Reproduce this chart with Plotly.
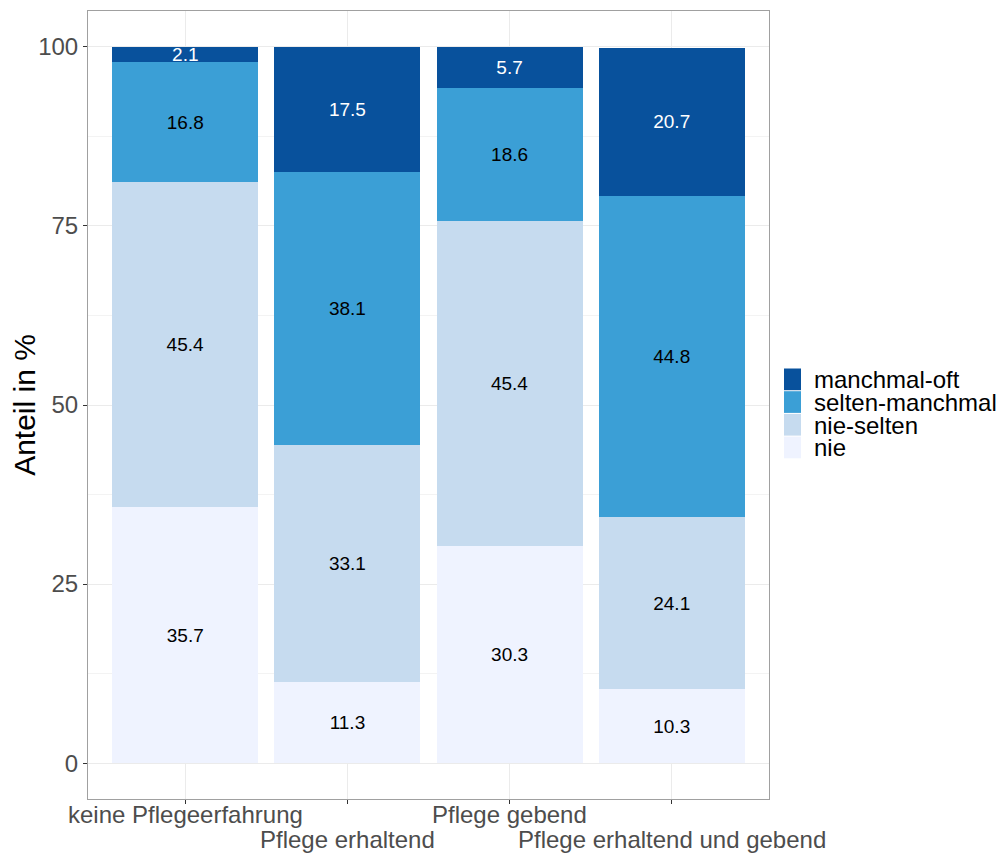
import plotly.graph_objects as go

# Categories and values (percent)
categories = ["keine Pflegeerfahrung", "Pflege erhaltend", "Pflege gebend", "Pflege erhaltend und gebend"]

nie = [35.7, 11.3, 30.3, 10.3]
nie_selten = [45.4, 33.1, 45.4, 24.1]
selten_manchmal = [16.8, 38.1, 18.6, 44.8]
manchmal_oft = [2.1, 17.5, 5.7, 20.7]

series_names = ["nie", "nie-selten", "selten-manchmal", "manchmal-oft"]
series_values = [nie, nie_selten, selten_manchmal, manchmal_oft]
colors = ["#EFF3FF", "#C6DBEF", "#3B9FD6", "#08519C"]
text_colors = ["black", "black", "black", "white"]

FONT = "Liberation Sans, Arial, sans-serif"

fig = go.Figure()
for name, vals, color, tcolor in zip(series_names, series_values, colors, text_colors):
    fig.add_trace(go.Bar(
        x=categories, y=vals, name=name,
        marker=dict(color=color, line=dict(width=0)),
        text=[f"{v:.1f}" for v in vals],
        textposition="inside", insidetextanchor="middle",
        textfont=dict(color=tcolor, size=19, family=FONT),
        constraintext="none", cliponaxis=False,
        hoverinfo="skip", showlegend=False,
    ))

# the page has an 8px body margin, so the figure is 999x846
W, H = 999, 846
L, R, T, B = 80, 238, 3, 55
pw, ph = W - L - R, H - T - B


def px_x(p):
    return (p - L) / pw


def px_y(p):
    return (H - B - p) / ph


# dodged x labels (two rows), as in the ggplot original
annotations = []
for i, cat in enumerate(categories):
    annotations.append(dict(
        x=cat, xref="x", y=0, yref="paper", yanchor="top",
        yshift=-25 * (i % 2), text=cat, showarrow=False,
        font=dict(size=24, color="#4D4D4D", family=FONT),
    ))

# manual legend (ggplot-like tight keys), pixel positions in figure coords
shapes = []
key_top = 360
key_h = 22.7
for j, (name, color) in enumerate(zip(series_names[::-1], colors[::-1])):
    y0 = key_top + j * key_h
    shapes.append(dict(
        type="rect", xref="paper", yref="paper",
        x0=px_x(776), x1=px_x(793), y0=px_y(y0 + key_h - 0.5), y1=px_y(y0 + 0.5),
        fillcolor=color, line=dict(width=0),
    ))
    annotations.append(dict(
        x=px_x(805), xref="paper", y=px_y(y0 + key_h / 2), yref="paper",
        xanchor="left", yanchor="middle", text=name, showarrow=False,
        height=22, borderpad=0,
        font=dict(size=24, color="black", family=FONT),
    ))

fig.update_layout(
    barmode="stack",
    bargap=0.1,
    width=W, height=H,
    margin=dict(l=L, r=R, t=T, b=B),
    plot_bgcolor="white", paper_bgcolor="white",
    font=dict(family=FONT, color="black"),
    uniformtext=dict(minsize=19, mode="show"),
    showlegend=False,
    annotations=annotations,
    shapes=shapes,
)

fig.update_xaxes(
    range=[-0.6, 3.6], automargin=False,
    showticklabels=False,
    showgrid=True, gridcolor="#EBEBEB", gridwidth=1,
    showline=True, mirror=True, linecolor="#A0A0A0", linewidth=1,
    ticks="outside", ticklen=4, tickcolor="#333333",
)

fig.update_yaxes(
    range=[-5, 105], automargin=False,
    tickvals=[0, 25, 50, 75, 100],
    showgrid=True, gridcolor="#EBEBEB", gridwidth=1,
    minor=dict(tickvals=[12.5, 37.5, 62.5, 87.5], showgrid=True, gridcolor="#F3F3F3", gridwidth=1),
    zeroline=False,
    showline=True, mirror=True, linecolor="#A0A0A0", linewidth=1,
    ticks="outside", ticklen=4, tickcolor="#333333",
    tickfont=dict(size=24, color="#4D4D4D"),
    title=dict(text="Anteil in %", font=dict(size=30, color="black"), standoff=0),
)

fig.write_html("out.html")
